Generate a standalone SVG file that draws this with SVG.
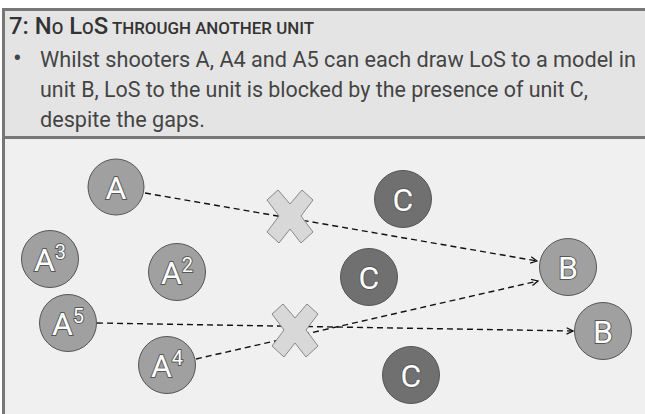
<svg xmlns="http://www.w3.org/2000/svg" width="645" height="414" viewBox="0 0 645 414">
  <style>
    .hdr { font-family: Roboto, "Liberation Sans", sans-serif; fill: #444; }
    .ttl { fill: #333; font-weight: 500; }
    .unit { stroke: #555; stroke-width: 1; }
    .a { fill: #a0a0a0; }
    .c { fill: #707070; }
    .lbl { font-family: Roboto, "Liberation Sans", sans-serif; font-size: 32px; fill: #fff; stroke: #555; stroke-width: 1.8; paint-order: stroke; text-anchor: middle; }
    .sup { font-size: 20px; }
    .los { fill: none; stroke: #111; stroke-width: 1.4; stroke-dasharray: 6 4; }
    .blk { fill: #d8d8d8; stroke: #888; stroke-width: 1; }
  </style>
  <defs>
    <marker id="arrow" viewBox="0 0 10 10" refX="9" refY="5" markerWidth="8" markerHeight="8" markerUnits="userSpaceOnUse" orient="auto">
      <path d="M1,1 L9,5 L1,9" fill="none" stroke="#111" stroke-width="1.6"/>
    </marker>
    <polygon id="cross" points="-12,-26 0,-12 12,-26 23,-16 11,0 23,16 11,27 0,13 -11,27 -23,16 -11,0 -23,-16"/>
  </defs>

  <!-- panel backgrounds -->
  <rect x="0" y="0" width="645" height="414" fill="#fff"/>
  <rect x="3" y="9" width="642" height="128" fill="#e4e4e4"/>
  <rect x="3" y="138" width="642" height="276" fill="#f0f0f0"/>
  <line x1="3" y1="9.5" x2="645" y2="9.5" stroke="#777" stroke-width="3"/>
  <line x1="3" y1="137.5" x2="645" y2="137.5" stroke="#777" stroke-width="3"/>
  <line x1="3.5" y1="8" x2="3.5" y2="414" stroke="#777" stroke-width="3"/>

  <!-- heading and caption -->
  <g id="header">
    <text class="hdr ttl" x="9" y="34" font-size="24" textLength="305" lengthAdjust="spacingAndGlyphs">7: N<tspan font-size="17">O</tspan> L<tspan font-size="17">O</tspan>S<tspan font-size="17"> THROUGH ANOTHER UNIT</tspan></text>
    <text class="hdr" x="13" y="67" font-size="26">•</text>
    <text class="hdr" x="40" y="67" font-size="22" textLength="596" lengthAdjust="spacingAndGlyphs">Whilst shooters A, A4 and A5 can each draw LoS to a model in</text>
    <text class="hdr" x="40" y="97" font-size="22" textLength="548" lengthAdjust="spacingAndGlyphs">unit B, LoS to the unit is blocked by the presence of unit C,</text>
    <text class="hdr" x="40" y="127" font-size="22" textLength="165" lengthAdjust="spacingAndGlyphs">despite the gaps.</text>
  </g>

  <!-- lines of sight -->
  <g id="connectors">
    <line class="los" x1="145" y1="193" x2="537" y2="261" marker-end="url(#arrow)"/>
    <line class="los" x1="97" y1="323" x2="573" y2="331" marker-end="url(#arrow)"/>
    <line class="los" x1="196" y1="359" x2="538" y2="281" marker-end="url(#arrow)"/>
  </g>

  <!-- blocked markers -->
  <g id="block-1"><use href="#cross" class="blk" x="290" y="216"/></g>
  <g id="block-2"><use href="#cross" class="blk" x="295" y="330"/></g>

  <!-- shooters -->
  <g id="unit-A">
    <circle class="unit a" cx="116" cy="187" r="28"/>
    <text class="lbl" x="116" y="199">A</text>
  </g>
  <g id="unit-A3">
    <circle class="unit a" cx="50" cy="259" r="28.5"/>
    <text class="lbl" x="50" y="271">A<tspan class="sup" dy="-12">3</tspan></text>
  </g>
  <g id="unit-A2">
    <circle class="unit a" cx="177" cy="272" r="28.5"/>
    <text class="lbl" x="177" y="284">A<tspan class="sup" dy="-12">2</tspan></text>
  </g>
  <g id="unit-A5">
    <circle class="unit a" cx="68" cy="323" r="28.5"/>
    <text class="lbl" x="68" y="335">A<tspan class="sup" dy="-12">5</tspan></text>
  </g>
  <g id="unit-A4">
    <circle class="unit a" cx="167" cy="365" r="28.5"/>
    <text class="lbl" x="167" y="377">A<tspan class="sup" dy="-12">4</tspan></text>
  </g>

  <!-- intervening unit -->
  <g id="unit-C1">
    <circle class="unit c" cx="403" cy="199" r="28.5"/>
    <text class="lbl" x="403" y="211">C</text>
  </g>
  <g id="unit-C2">
    <circle class="unit c" cx="369" cy="277" r="28.5"/>
    <text class="lbl" x="369" y="289">C</text>
  </g>
  <g id="unit-C3">
    <circle class="unit c" cx="411" cy="375" r="28.5"/>
    <text class="lbl" x="411" y="387">C</text>
  </g>

  <!-- target -->
  <g id="unit-B1">
    <circle class="unit a" cx="568" cy="267" r="28.5"/>
    <text class="lbl" x="568" y="279">B</text>
  </g>
  <g id="unit-B2">
    <circle class="unit a" cx="603" cy="331" r="28.5"/>
    <text class="lbl" x="603" y="343">B</text>
  </g>
</svg>
